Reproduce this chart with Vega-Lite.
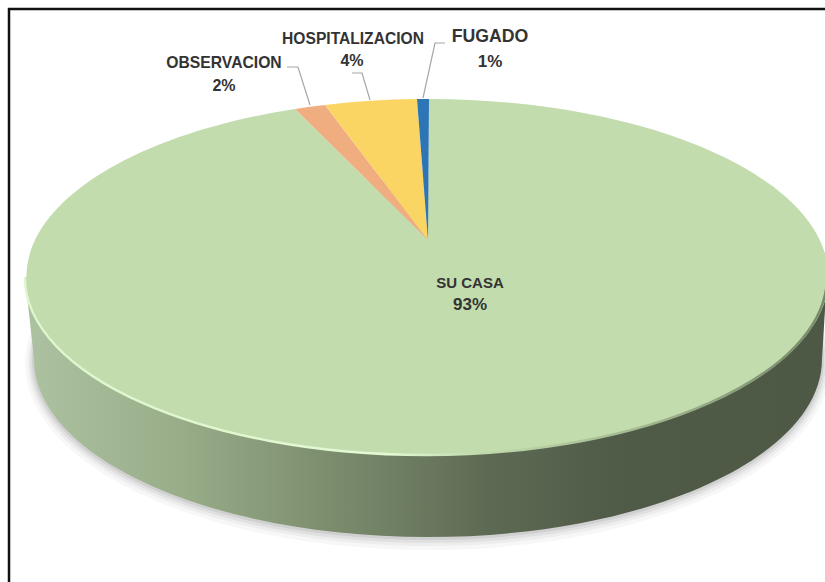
{"$schema":"https://vega.github.io/schema/vega-lite/v6.json","width":825,"height":582,"padding":0,"autosize":{"type":"none"},"background":"#ffffff","config":{"view":{"stroke":null},"text":{"font":"Liberation Sans","fontWeight":"bold","color":"#333333","baseline":"middle","align":"center"}},"data":{"values":[{"categoria":"SU CASA","valor":0.93},{"categoria":"OBSERVACION","valor":0.02},{"categoria":"HOSPITALIZACION","valor":0.04},{"categoria":"FUGADO","valor":0.01}]},"resolve":{"scale":{"shape":"independent","fill":"independent"}},"layer":[{"data":{"values":[{"pieza":"marco"}]},"mark":{"type":"point","filled":false,"opacity":1,"size":4,"stroke":"#111111","strokeWidth":2.5,"shape":"M-403.5,291 L-403.5,-282 L413,-282"}},{"data":{"values":[{"pieza":"sombra"}]},"mark":{"type":"point","filled":true,"size":4,"fill":"#000000","opacity":0.03,"shape":"M-387.5,72 A403,187 0 0 0 418.5,72 A403,187 0 0 0 -387.5,72 Z"}},{"data":{"values":[{"pieza":"sombra"}]},"mark":{"type":"point","filled":true,"size":4,"fill":"#000000","opacity":0.04,"shape":"M-384.5,71 A400,184 0 0 0 415.5,71 A400,184 0 0 0 -384.5,71 Z"}},{"data":{"values":[{"pieza":"sombra"}]},"mark":{"type":"point","filled":true,"size":4,"fill":"#000000","opacity":0.05,"shape":"M-382.5,70 A398,182 0 0 0 413.5,70 A398,182 0 0 0 -382.5,70 Z"}},{"data":{"values":[{"pieza":"sombra"}]},"mark":{"type":"point","filled":true,"size":4,"fill":"#000000","opacity":0.07,"shape":"M-380.5,69 A396,180 0 0 0 411.5,69 A396,180 0 0 0 -380.5,69 Z"}},{"data":{"values":[{"pieza":"lateral"}]},"mark":{"type":"point","size":4,"filled":true,"opacity":1,"shape":"M-387.5,-14 L-378.5,68 A394,178 0 0 0 409.5,68 L414.5,-14 Z","fill":{"gradient":"linear","x1":0,"y1":0,"x2":1,"y2":0,"stops":[{"offset":0,"color":"#adc2a1"},{"offset":0.2,"color":"#98ac88"},{"offset":0.38,"color":"#7c8d6e"},{"offset":0.58,"color":"#5d6a53"},{"offset":0.75,"color":"#4f5a47"},{"offset":1,"color":"#4d5845"}]}}},{"mark":{"type":"point","size":4,"filled":true,"opacity":1},"encoding":{"shape":{"field":"categoria","type":"nominal","legend":null,"scale":{"domain":["SU CASA","OBSERVACION","HOSPITALIZACION","FUGADO"],"range":["M15.5,-51 L16.5,-192 A401,178 0 1 1 -117.5,-182 Z","M15.5,-51 L-117.5,-182 A401,178 0 0 1 -87.5,-186 Z","M15.5,-51 L-87.5,-186 A401,178 0 0 1 4.5,-192 Z","M15.5,-51 L4.5,-192 A401,178 0 0 1 16.5,-192 Z"]}},"fill":{"field":"categoria","type":"nominal","legend":null,"scale":{"domain":["SU CASA","OBSERVACION","HOSPITALIZACION","FUGADO"],"range":["#c3dcae","#f0ae80","#fbd563","#2e75b6"]}}}},{"data":{"values":[{"pieza":"borde"}]},"mark":{"type":"point","filled":false,"opacity":1,"size":4,"strokeWidth":2.5,"shape":"M-387.5,-14 A401,178 0 0 0 414.5,-14","stroke":{"gradient":"linear","x1":0,"y1":0,"x2":1,"y2":0,"stops":[{"offset":0,"color":"#ddf6cc"},{"offset":0.45,"color":"#e3f9d3"},{"offset":0.56,"color":"#c3dcae"},{"offset":0.75,"color":"#a4bb92"},{"offset":1,"color":"#76886a"}]}}},{"transform":[{"filter":"datum.categoria !== 'SU CASA'"}],"mark":{"type":"point","filled":false,"opacity":1,"size":4,"stroke":"#a6a6a6","strokeWidth":1.2},"encoding":{"shape":{"field":"categoria","type":"nominal","legend":null,"scale":{"domain":["OBSERVACION","HOSPITALIZACION","FUGADO"],"range":["M-125.5,-224 L-114.5,-224 L-102.5,-186","M-60.5,-218 L-50.5,-218 L-42.5,-191","M32.5,-248 L22.5,-248 L10.5,-193"]}}}},{"transform":[{"filter":"datum.categoria === 'SU CASA'"}],"mark":{"type":"text","fontSize":15,"dx":57.5,"dy":-8},"encoding":{"text":{"field":"categoria"}}},{"transform":[{"filter":"datum.categoria === 'SU CASA'"}],"mark":{"type":"text","fontSize":17,"dx":57.5,"dy":14},"encoding":{"text":{"field":"valor","type":"quantitative","format":".0%"}}},{"transform":[{"filter":"datum.categoria === 'OBSERVACION'"}],"mark":{"type":"text","fontSize":15.7,"dx":-188.5,"dy":-228},"encoding":{"text":{"field":"categoria"}}},{"transform":[{"filter":"datum.categoria === 'OBSERVACION'"}],"mark":{"type":"text","fontSize":16,"dx":-188.5,"dy":-205},"encoding":{"text":{"field":"valor","type":"quantitative","format":".0%"}}},{"transform":[{"filter":"datum.categoria === 'HOSPITALIZACION'"}],"mark":{"type":"text","fontSize":15.6,"dx":-59.5,"dy":-252},"encoding":{"text":{"field":"categoria"}}},{"transform":[{"filter":"datum.categoria === 'HOSPITALIZACION'"}],"mark":{"type":"text","fontSize":16,"dx":-60.5,"dy":-230},"encoding":{"text":{"field":"valor","type":"quantitative","format":".0%"}}},{"transform":[{"filter":"datum.categoria === 'FUGADO'"}],"mark":{"type":"text","fontSize":17.7,"dx":77.5,"dy":-254},"encoding":{"text":{"field":"categoria"}}},{"transform":[{"filter":"datum.categoria === 'FUGADO'"}],"mark":{"type":"text","fontSize":17,"dx":77.5,"dy":-229},"encoding":{"text":{"field":"valor","type":"quantitative","format":".0%"}}}]}
